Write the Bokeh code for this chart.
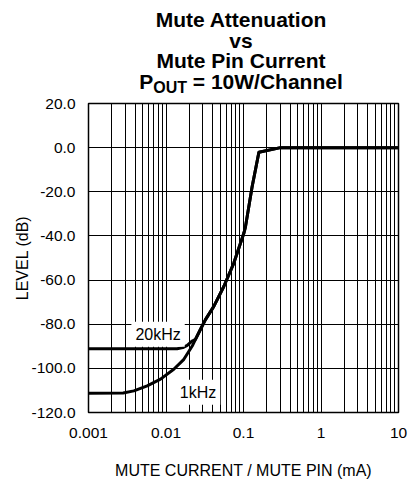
from bokeh.plotting import figure
from bokeh.layouts import column
from bokeh.models import (Range1d, FixedTicker, CustomJSTickFormatter,
                          NumeralTickFormatter, Label, Div)
from bokeh.embed import file_html
from bokeh.resources import INLINE

# ---- data ----
current_20k = [0.001, 0.0139, 0.0165, 0.0188, 0.0218,
               0.0240, 0.0279, 0.0323, 0.0414, 0.0557, 0.075, 0.101, 0.106,
               0.129, 0.158, 0.30, 10.0]
level_20k = [-91.1, -91.1, -90.6, -89.6, -87.6,
             -86.9, -82.3, -77.9, -71.9, -62.9, -52.3, -38.8, -35.9,
             -17.8, -2.1, 0.0, 0.0]

current_1k = [0.001, 0.0028, 0.00385, 0.00572, 0.0085, 0.0126, 0.0170, 0.0218,
              0.0240, 0.0279, 0.0323, 0.0414, 0.0557, 0.075, 0.101, 0.106,
              0.129, 0.158, 0.30, 10.0]
level_1k = [-111.3, -111.2, -110.2, -107.9, -104.9, -100.4, -95.9, -89.9,
            -86.9, -82.3, -77.9, -71.9, -62.9, -52.3, -38.8, -35.9,
            -17.8, -2.1, 0.0, 0.0]

x_ticks = [0.001, 0.01, 0.1, 1, 10]
x_minor = [m * d for d in [0.001, 0.01, 0.1, 1] for m in range(2, 10)]
y_ticks = [-120, -100, -80, -60, -40, -20, 0, 20]

title_lines = ["Mute Attenuation", "vs", "Mute Pin Current"]
title_sub = ["P", "OUT", " = 10W/Channel"]
curve_labels = ["20kHz", "1kHz"]
label_x = [0.0079, 0.0259]
label_y = [-84.6, -110.8]

FONT = "Liberation Sans"

# ---------- title (HTML, so the subscript is real text) ----------
title_html = (
    '<div style="margin:0 0 0 74px; width:334px; padding-top:10px; '
    "font-family:'Liberation Sans', Arial, sans-serif; font-weight:bold; "
    'font-size:21px; line-height:20.5px; text-align:center; color:black; '
    'white-space:nowrap;">'
    + "<br>".join(title_lines)
    + "<br>" + title_sub[0]
    + '<span style="font-size:16px; position:relative; top:4px;">'
    + title_sub[1] + "</span>" + title_sub[2].replace(" ", "&nbsp;", 1)
    + "</div>"
)
t = Div(text=title_html, width=408, height=94, margin=(0, 0, 0, 0))

# ---------- main chart ----------
p = figure(width=408, height=387,
           min_border_left=88, min_border_right=10,
           min_border_top=9, min_border_bottom=67,
           x_axis_type="log",
           x_range=Range1d(0.001, 10), y_range=Range1d(-120, 20),
           output_backend="svg", toolbar_location=None)
p.margin = (0, 0, 0, 0)

p.outline_line_color = "black"
p.outline_line_width = 1.5
p.background_fill_color = "white"
p.border_fill_color = "white"

p.xgrid.ticker = FixedTicker(ticks=x_ticks, minor_ticks=x_minor)
p.xgrid.grid_line_color = "black"
p.xgrid.grid_line_width = 1
p.xgrid.minor_grid_line_color = "black"
p.xgrid.minor_grid_line_width = 1
p.ygrid.ticker = FixedTicker(ticks=y_ticks)
p.ygrid.grid_line_color = "black"
p.ygrid.grid_line_width = 1

for ax in (p.xaxis[0], p.yaxis[0]):
    ax.axis_line_color = None
    ax.major_tick_line_color = None
    ax.minor_tick_line_color = None
    ax.major_label_text_font = FONT
    ax.major_label_text_font_size = "15.5px"
    ax.major_label_text_color = "black"
    ax.axis_label_text_font = FONT
    ax.axis_label_text_font_size = "16px"
    ax.axis_label_text_font_style = "normal"
    ax.axis_label_text_color = "black"

p.xaxis.ticker = FixedTicker(ticks=x_ticks, minor_ticks=x_minor)
p.xaxis.formatter = CustomJSTickFormatter(code="return tick.toString();")
p.xaxis.major_label_standoff = 9
p.xaxis.axis_label = "MUTE CURRENT / MUTE PIN (mA)"
p.xaxis.axis_label_standoff = 21

p.yaxis.ticker = FixedTicker(ticks=y_ticks)
p.yaxis.formatter = NumeralTickFormatter(format="0.0")
p.yaxis.major_label_standoff = 7
p.yaxis.axis_label = "LEVEL (dB)"
p.yaxis.axis_label_standoff = -2

p.line(current_20k, level_20k, line_color="black", line_width=3, line_join="round")
p.line(current_1k, level_1k, line_color="black", line_width=3, line_join="round")

for txt, lx, ly in zip(curve_labels, label_x, label_y):
    p.add_layout(Label(x=lx, y=ly, text=txt, text_align="center",
                       text_baseline="alphabetic", text_font=FONT,
                       text_font_size="16px", text_color="black",
                       background_fill_color="white", padding=4))

layout = column(t, p, spacing=0)
open("out.html", "w").write(file_html(layout, INLINE))
